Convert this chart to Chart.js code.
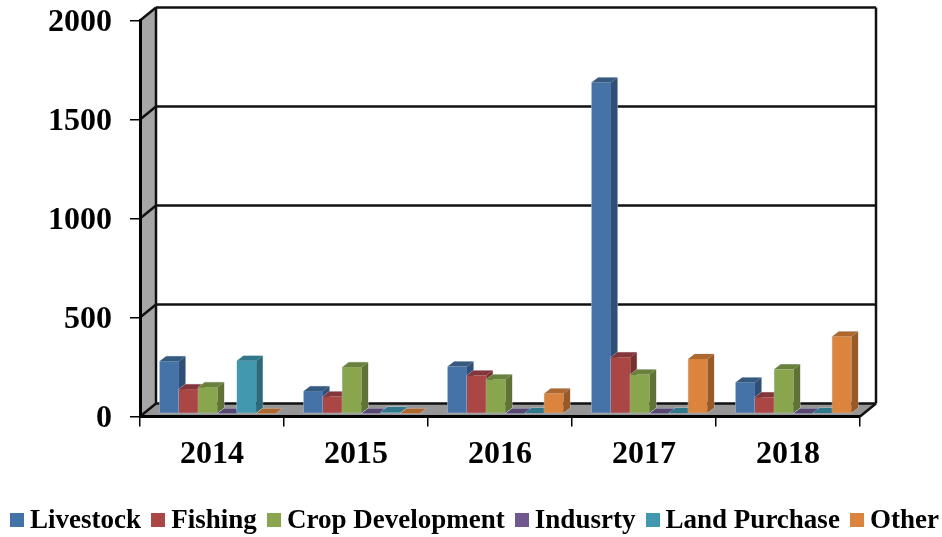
<!DOCTYPE html>
<html>
<head>
<meta charset="utf-8">
<script src="https://cdn.jsdelivr.net/npm/chart.js@4"></script>
<style>
  html, body { margin: 0; padding: 0; background: #fff; }
  #wrap { position: relative; width: 942px; height: 537px; overflow: hidden; }
  #legend { position: absolute; left: 10px; top: 504px; display: flex; align-items: center; white-space: nowrap;
    font: bold 27px "Liberation Serif", serif; color: #000; }
  #legend .item { display: flex; align-items: center; margin-right: 10.2px; }
  #legend i { display: block; width: 14px; height: 14px; margin-right: 6px; }
</style>
</head>
<body>
<div id="wrap">
  <canvas id="chart" width="942" height="537"></canvas>
  <div id="legend"></div>
</div>
<script>
const years = ['2014', '2015', '2016', '2017', '2018'];
const seriesNames = ['Livestock', 'Fishing', 'Crop Development', 'Indusrty', 'Land Purchase', 'Other'];

const livestock = [264, 113, 237, 1672, 157];
const fishing = [123, 86, 192, 284, 82];
const cropDevelopment = [133, 234, 172, 197, 223];
const industry = [0, 0, 0, 0, 0];
const landPurchase = [266, 8, 2, 2, 2];
const other = [0, 0, 101, 275, 389];

const yTicks = [0, 500, 1000, 1500, 2000];

const FRONT = ['#4573a7', '#aa4643', '#89a54e', '#71588f', '#4198af', '#db843d'];
const SIDE = ['#2f4f76', '#792f2d', '#5f7336', '#4e3d64', '#2c6a7b', '#985a29'];
const TOP = ['#35597f', '#85363a', '#6a813c', '#5a4672', '#32788b', '#ad682f'];

// depth of the fake 3d box
const WALL_DX = 16, WALL_DY = 13;
const BAR_DX = 6.5, BAR_DY = 5;
const BAR_SHIFT_X = 5.6, BAR_SHIFT_Y = -3;

function poly(ctx, pts, fill) {
  ctx.beginPath();
  pts.forEach((p, i) => i ? ctx.lineTo(p[0], p[1]) : ctx.moveTo(p[0], p[1]));
  ctx.closePath();
  ctx.fillStyle = fill;
  ctx.fill();
}

function line(ctx, x1, y1, x2, y2) {
  ctx.beginPath();
  ctx.moveTo(x1, y1);
  ctx.lineTo(x2, y2);
  ctx.stroke();
}

const box3d = {
  id: 'box3d',
  beforeDraw(chart) {
    const { ctx, chartArea: a, scales: { y } } = chart;
    ctx.save();
    // left wall and floor
    poly(ctx, [[a.left, a.top], [a.left + WALL_DX, a.top - WALL_DY], [a.left + WALL_DX, a.bottom - WALL_DY], [a.left, a.bottom]], '#a6a6a6');
    poly(ctx, [[a.left, a.bottom], [a.left + WALL_DX, a.bottom - WALL_DY], [a.right + WALL_DX, a.bottom - WALL_DY], [a.right, a.bottom]], '#969696');
    ctx.strokeStyle = '#111';
    ctx.lineWidth = 2.5;
    yTicks.forEach(v => {
      const py = y.getPixelForValue(v);
      line(ctx, a.left + WALL_DX, py - WALL_DY, a.right + WALL_DX, py - WALL_DY);
      line(ctx, a.left, py, a.left + WALL_DX, py - WALL_DY);
    });
    line(ctx, a.left + WALL_DX, a.top - WALL_DY, a.left + WALL_DX, a.bottom - WALL_DY);
    line(ctx, a.right + WALL_DX, a.top - WALL_DY, a.right + WALL_DX, a.bottom - WALL_DY);
    line(ctx, a.right, a.bottom, a.right + WALL_DX, a.bottom - WALL_DY);
    ctx.restore();
  },
  // paint the bars ourselves, left to right, so each one covers the side of the previous
  beforeDatasetsDraw(chart) {
    const ctx = chart.ctx;
    ctx.save();
    ctx.translate(BAR_SHIFT_X, BAR_SHIFT_Y);
    chart.data.datasets.forEach((ds, i) => {
      chart.getDatasetMeta(i).data.forEach(el => {
        const { x, y, base, width } = el.getProps(['x', 'y', 'base', 'width'], true);
        const l = x - width / 2, r = x + width / 2;
        // faint light edge round the whole box
        ctx.strokeStyle = 'rgba(205,220,235,.7)';
        ctx.lineWidth = 1;
        ctx.beginPath();
        ctx.moveTo(l, base);
        ctx.lineTo(l, y);
        ctx.lineTo(l + BAR_DX, y - BAR_DY);
        ctx.lineTo(r + BAR_DX, y - BAR_DY);
        ctx.lineTo(r + BAR_DX, base - BAR_DY);
        ctx.lineTo(r, base);
        ctx.closePath();
        ctx.stroke();
        el.draw(ctx);
        poly(ctx, [[r, y], [r + BAR_DX, y - BAR_DY], [r + BAR_DX, base - BAR_DY], [r, base]], SIDE[i]);
        poly(ctx, [[l, y], [l + BAR_DX, y - BAR_DY], [r + BAR_DX, y - BAR_DY], [r, y]], TOP[i]);
      });
    });
    ctx.restore();
    return false;
  }
};

const seriesValues = [livestock, fishing, cropDevelopment, industry, landPurchase, other];

new Chart(document.getElementById('chart'), {
  type: 'bar',
  data: {
    labels: years,
    datasets: seriesNames.map((name, i) => ({
      label: name,
      data: seriesValues[i],
      backgroundColor: FRONT[i],
      borderWidth: 0
    }))
  },
  options: {
    responsive: false,
    animation: false,
    categoryPercentage: 0.805,
    barPercentage: 1,
    layout: { padding: { top: 20.5, right: 82 } },
    plugins: { legend: { display: false }, tooltip: { enabled: false } },
    scales: {
      x: {
        afterFit: s => { s.height = 120.5; s.paddingLeft = 0; s.paddingRight = 0; },
        grid: { drawOnChartArea: false, color: '#000', lineWidth: 1.5, tickLength: 10, tickColor: '#000' },
        border: { color: '#000', width: 3 },
        ticks: { color: '#000', padding: 9, maxRotation: 0, font: { family: 'Liberation Serif', weight: 'bold', size: 32 } }
      },
      y: {
        min: 0,
        max: 2000,
        afterFit: s => { s.width = 140; s.paddingTop = 0; s.paddingBottom = 0; },
        afterBuildTicks: s => { s.ticks = yTicks.map(v => ({ value: v })); },
        grid: { drawOnChartArea: false, color: '#000', lineWidth: 1.5, tickLength: 10, tickColor: '#000' },
        border: { color: '#000', width: 3 },
        ticks: { color: '#000', padding: 18, labelOffset: 2.5, callback: v => String(v), font: { family: 'Liberation Serif', weight: 'bold', size: 32 } }
      }
    }
  },
  plugins: [box3d]
});

const legendEl = document.getElementById('legend');
seriesNames.forEach((name, i) => {
  const item = document.createElement('div');
  item.className = 'item';
  const swatch = document.createElement('i');
  swatch.style.background = FRONT[i];
  const label = document.createElement('span');
  label.textContent = name;
  item.append(swatch, label);
  legendEl.appendChild(item);
});
</script>
</body>
</html>
